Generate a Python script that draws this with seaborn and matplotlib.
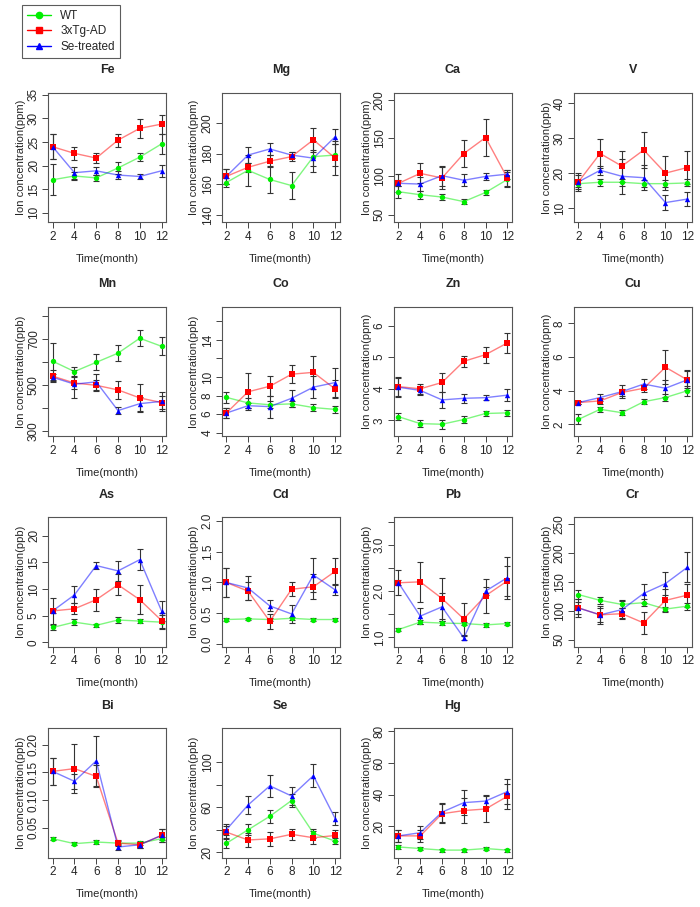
import numpy as np
import matplotlib
matplotlib.use("Agg")
import matplotlib.pyplot as plt
import pandas as pd
import seaborn as sns
from matplotlib.lines import Line2D

# Data (mean and error bar half-length per element)
months = [2, 4, 6, 8, 10, 12]
elements = ["Fe", "Mg", "Ca", "V", "Mn", "Co", "Zn", "Cu",
            "As", "Cd", "Pb", "Cr", "Bi", "Se", "Hg"]
units = {"Fe": "ppm", "Mg": "ppm", "Ca": "ppm", "V": "ppb", "Mn": "ppb", "Co": "ppb",
         "Zn": "ppm", "Cu": "ppm", "As": "ppb", "Cd": "ppb", "Pb": "ppb", "Cr": "ppb",
         "Bi": "ppb", "Se": "ppb", "Hg": "ppb"}

wt_mean = {
    "Fe": [17.0, 17.8, 17.4, 19.5, 21.8, 24.6],
    "Mg": [161, 169, 163, 159, 178, 179],
    "Ca": [80, 76, 73, 67, 79, 96],
    "V": [17.0, 17.4, 17.4, 17.0, 17.0, 17.2],
    "Mn": [605, 560, 600, 640, 705, 670],
    "Co": [7.8, 7.2, 7.0, 7.1, 6.7, 6.5],
    "Zn": [3.12, 2.90, 2.88, 3.03, 3.22, 3.24],
    "Cu": [2.3, 2.9, 2.7, 3.35, 3.6, 4.0],
    "As": [2.8, 3.8, 3.2, 4.2, 4.0, 3.8],
    "Cd": [0.40, 0.41, 0.40, 0.42, 0.40, 0.40],
    "Pb": [1.17, 1.33, 1.31, 1.30, 1.27, 1.30],
    "Cr": [128, 118, 111, 114, 103, 108],
    "Bi": [0.030, 0.021, 0.024, 0.022, 0.022, 0.030],
    "Se": [28, 40, 52, 66, 37, 30],
    "Hg": [7, 6, 5, 5, 6, 5],
}
wt_err = {
    "Fe": [3.3, 0.8, 0.7, 1.2, 0.9, 2.1],
    "Mg": [3, 10, 9, 9, 10, 7],
    "Ca": [8, 5, 4, 3, 3, 10],
    "V": [1, 1, 1, 1, 1, 1],
    "Mn": [80, 20, 35, 35, 35, 40],
    "Co": [0.6, 0.5, 0.4, 0.3, 0.4, 0.4],
    "Zn": [0.1, 0.1, 0.15, 0.1, 0.07, 0.1],
    "Cu": [0.3, 0.15, 0.15, 0.15, 0.2, 0.3],
    "As": [0.5, 0.5, 0.3, 0.5, 0.4, 1.3],
    "Cd": [0.03, 0.02, 0.02, 0.02, 0.02, 0.03],
    "Pb": [0.03, 0.05, 0.04, 0.03, 0.04, 0.03],
    "Cr": [8, 6, 7, 6, 4, 6],
    "Bi": [0.003, 0.003, 0.003, 0.003, 0.003, 0.003],
    "Se": [4, 5, 6, 6, 4, 3],
    "Hg": [1, 1, 1, 1, 1, 1],
}
tg_mean = {
    "Fe": [24.0, 22.6, 21.6, 25.4, 27.9, 28.8],
    "Mg": [165, 171, 175, 178, 189, 177],
    "Ca": [91, 104, 98, 130, 151, 98],
    "V": [17.5, 25.6, 22.0, 26.6, 20.0, 21.6],
    "Mn": [540, 510, 500, 480, 445, 425],
    "Co": [6.1, 8.4, 9.0, 10.3, 10.5, 8.7],
    "Zn": [4.07, 4.00, 4.20, 4.87, 5.08, 5.45],
    "Cu": [3.3, 3.4, 3.9, 4.15, 5.4, 4.65],
    "As": [5.9, 6.3, 8.0, 10.8, 8.0, 4.1],
    "Cd": [1.00, 0.86, 0.37, 0.89, 0.93, 1.18],
    "Pb": [2.18, 2.20, 1.84, 1.40, 1.90, 2.22],
    "Cr": [105, 93, 95, 79, 118, 127],
    "Bi": [0.152, 0.157, 0.143, 0.022, 0.019, 0.036],
    "Se": [38, 31, 32, 36, 33, 35],
    "Hg": [14, 14, 28, 30, 31, 39],
}
tg_err = {
    "Fe": [2.6, 1.4, 1.0, 1.4, 2.0, 2.0],
    "Mg": [5, 3, 4, 3, 8, 11],
    "Ca": [12, 13, 15, 18, 24, 11],
    "V": [2.5, 4.2, 4.4, 5.0, 4.8, 4.8],
    "Mn": [25, 25, 25, 40, 60, 30],
    "Co": [0.5, 2.0, 1.1, 1.0, 1.8, 1.0],
    "Zn": [0.3, 0.15, 0.3, 0.17, 0.25, 0.32],
    "Cu": [0.1, 0.2, 0.2, 0.2, 1.0, 0.6],
    "As": [2.5, 1.0, 2.1, 2.0, 2.7, 1.4],
    "Cd": [0.24, 0.15, 0.12, 0.11, 0.20, 0.22],
    "Pb": [0.27, 0.43, 0.45, 0.35, 0.37, 0.33],
    "Cr": [15, 12, 10, 19, 20, 20],
    "Bi": [0.024, 0.045, 0.020, 0.006, 0.005, 0.012],
    "Se": [5, 6, 6, 5, 6, 5],
    "Hg": [4, 4, 6, 8, 8, 8],
}
se_mean = {
    "Fe": [24.0, 18.5, 18.9, 18.0, 17.7, 18.9],
    "Mg": [165, 179, 183, 179, 177, 191],
    "Ca": [91, 90, 101, 95, 100, 103],
    "V": [17.5, 20.8, 19.1, 18.7, 11.6, 12.6],
    "Mn": [535, 505, 515, 390, 420, 430],
    "Co": [6.1, 6.9, 6.8, 7.7, 8.9, 9.4],
    "Zn": [4.05, 3.95, 3.65, 3.70, 3.72, 3.80],
    "Cu": [3.3, 3.6, 3.95, 4.4, 4.15, 4.65],
    "As": [5.9, 8.9, 14.4, 13.4, 15.5, 5.9],
    "Cd": [1.00, 0.91, 0.62, 0.49, 1.12, 0.88],
    "Pb": [2.18, 1.46, 1.66, 0.99, 2.00, 2.29],
    "Cr": [105, 93, 102, 130, 147, 175],
    "Bi": [0.152, 0.134, 0.171, 0.015, 0.019, 0.036],
    "Se": [40, 62, 79, 70, 88, 50],
    "Hg": [14, 16, 29, 35, 36, 42],
}
se_err = {
    "Fe": [2.6, 1.3, 0.8, 0.8, 0.6, 1.3],
    "Mg": [5, 5, 4, 2, 5, 5],
    "Ca": [4, 9, 13, 8, 5, 6],
    "V": [2.0, 1.3, 5.0, 3.5, 2.2, 2.0],
    "Mn": [15, 60, 35, 15, 30, 40],
    "Co": [0.5, 0.3, 1.2, 0.9, 1.2, 1.6],
    "Zn": [0.3, 0.15, 0.25, 0.15, 0.07, 0.2],
    "Cu": [0.1, 0.2, 0.4, 0.3, 0.5, 0.5],
    "As": [0.3, 1.6, 0.6, 1.8, 2.0, 1.8],
    "Cd": [0.24, 0.20, 0.09, 0.15, 0.28, 0.09],
    "Pb": [0.05, 0.18, 0.30, 0.05, 0.08, 0.45],
    "Cr": [10, 15, 15, 16, 20, 26],
    "Bi": [0.024, 0.014, 0.045, 0.005, 0.005, 0.012],
    "Se": [5, 8, 10, 8, 10, 6],
    "Hg": [4, 4, 6, 8, 4, 8],
}

ylims = {"Fe": (8, 35.5), "Mg": (135, 220), "Ca": (40, 210), "V": (6, 43),
         "Mn": (278, 843), "Co": (3.6, 17.6), "Zn": (2.5, 6.6), "Cu": (1.3, 9.0),
         "As": (-0.8, 23.5), "Cd": (-0.04, 2.06), "Pb": (0.8, 3.6), "Cr": (38, 262),
         "Bi": (-0.005, 0.23), "Se": (15, 130), "Hg": (0, 82)}
yticks = {"Fe": [10, 15, 20, 25, 30, 35], "Mg": [140, 160, 180, 200],
          "Ca": [50, 100, 150, 200], "V": [10, 20, 30, 40],
          "Mn": [300, 400, 500, 600, 700, 800], "Co": [4, 6, 8, 10, 12, 14, 16],
          "Zn": [3, 4, 5, 6], "Cu": [2, 4, 6, 8], "As": [0, 5, 10, 15, 20],
          "Cd": [0.0, 0.5, 1.0, 1.5, 2.0], "Pb": [1.0, 1.5, 2.0, 2.5, 3.0, 3.5],
          "Cr": [50, 100, 150, 200, 250], "Bi": [0.05, 0.10, 0.15, 0.20],
          "Se": [20, 40, 60, 80, 100], "Hg": [20, 40, 60, 80]}
ytick_labels = {"Fe": ["10", "15", "20", "25", "30", "35"], "Mg": ["140", "160", "180", "200"],
                "Ca": ["50", "100", "150", "200"], "V": ["10", "20", "30", "40"],
                "Mn": ["300", "", "500", "", "700", ""], "Co": ["4", "6", "8", "10", "", "14", ""],
                "Zn": ["3", "4", "5", "6"], "Cu": ["2", "4", "6", "8"],
                "As": ["0", "5", "10", "15", "20"], "Cd": ["0.0", "0.5", "1.0", "1.5", "2.0"],
                "Pb": ["1.0", "", "2.0", "", "3.0", ""], "Cr": ["50", "100", "150", "200", "250"],
                "Bi": ["0.05", "0.10", "0.15", "0.20"], "Se": ["20", "", "60", "", "100"],
                "Hg": ["20", "40", "60", "80"]}

groups = ["WT", "3xTg-AD", "Se-treated"]
colors = {"WT": "#00ee00", "3xTg-AD": "#ff0000", "Se-treated": "#0000ff"}
markers = {"WT": "o", "3xTg-AD": "s", "Se-treated": "^"}
means = {"WT": wt_mean, "3xTg-AD": tg_mean, "Se-treated": se_mean}
errs = {"WT": wt_err, "3xTg-AD": tg_err, "Se-treated": se_err}

sns.set_style("ticks")
plt.rcParams["font.family"] = ["Liberation Sans", "DejaVu Sans"]

fig = plt.figure(figsize=(7, 9.07), dpi=100)

lefts = [0.069, 0.317, 0.563, 0.82]
bottoms = [0.755, 0.519, 0.287, 0.054]
w, h = 0.168, 0.143

for i, el in enumerate(elements):
    ax = fig.add_axes([lefts[i % 4], bottoms[i // 4], w, h])
    for g in groups:
        df = pd.DataFrame({"month": months, "value": means[g][el]})
        ax.errorbar(months, means[g][el], yerr=errs[g][el], fmt="none",
                    ecolor="#333333", elinewidth=0.8, capsize=2.5, capthick=0.8, zorder=2)
        sns.lineplot(data=df, x="month", y="value", color=colors[g], alpha=0.5,
                     lw=1, ax=ax, zorder=3)
        sns.scatterplot(data=df, x="month", y="value", color=colors[g], marker=markers[g],
                        s=15, edgecolor=colors[g], linewidth=0, ax=ax, zorder=4)
    ax.set_xlim(1.6, 12.4)
    ax.set_ylim(*ylims[el])
    ax.set_xticks(months)
    ax.set_xticklabels([str(m) for m in months])
    ax.set_yticks(yticks[el])
    ax.set_yticklabels(ytick_labels[el], rotation=90, va="center")
    ax.tick_params(labelsize=8.5, length=4, width=0.7, color="#444444", pad=2)
    ax.set_title(el, fontsize=9, fontweight="bold", pad=14)
    ax.set_xlabel("Time(month)", fontsize=8, labelpad=8)
    ax.set_ylabel(f"Ion concentration({units[el]})", fontsize=8, labelpad=1.5)
    for sp in ax.spines.values():
        sp.set_visible(True)
        sp.set_color("#555555")
        sp.set_linewidth(0.8)

handles = [Line2D([0], [0], color=colors[g], marker=markers[g], markersize=4.5, lw=1)
           for g in groups]
leg = fig.legend(handles, groups, loc="upper left", bbox_to_anchor=(0.031, 0.995),
                 borderaxespad=0, fontsize=8.5, frameon=True, fancybox=False,
                 handlelength=2.0, borderpad=0.45, labelspacing=0.3)
leg.get_frame().set_edgecolor("#333333")
leg.get_frame().set_linewidth(0.8)

fig.savefig("out.png", dpi=100)
